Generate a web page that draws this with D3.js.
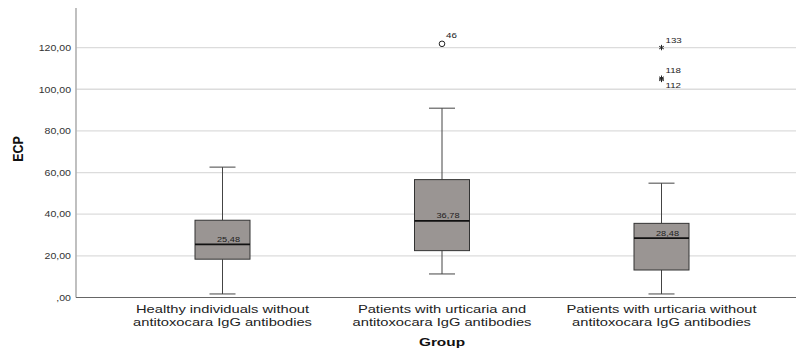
<!DOCTYPE html>
<html>
<head>
<meta charset="utf-8">
<script src="https://cdn.jsdelivr.net/npm/d3@7"></script>
<style>
  html, body { margin: 0; padding: 0; background: #fff; }
  svg { display: block; font-family: "Liberation Sans", Arial, sans-serif; }
</style>
</head>
<body>
<svg id="chart" width="796" height="350"></svg>
<script>
// ---- data ----
const groups = [
  ["Healthy individuals without", "antitoxocara IgG antibodies"],
  ["Patients with urticaria and", "antitoxocara IgG antibodies"],
  ["Patients with urticaria without", "antitoxocara IgG antibodies"]
];
const whiskerLow  = [1.7, 11.3, 1.7];
const q1          = [18.4, 22.5, 13.2];
const median      = [25.48, 36.78, 28.48];
const q3          = [37.1, 56.6, 35.6];
const whiskerHigh = [62.6, 90.9, 54.9];
const outlierGroup = [1, 2, 2, 2];
const outlierValue = [121.8, 120.0, 105.3, 104.7];
const outlierId    = ["46", "133", "118", "112"];
const outlierKind  = ["circle", "star", "star", "star"];
const yTicks = [0, 20, 40, 60, 80, 100, 120];
const yTitle = "ECP";
const xTitle = "Group";

// ---- layout ----
const svg = d3.select("#chart");
const plotLeft = 76, plotRight = 796, plotTop = 8, plotBottom = 297.5;
const SX = 1.4; // horizontal stretch of the reference's text

const x = d3.scalePoint().domain(d3.range(groups.length)).range([222.5, 661.5]);
const y = d3.scaleLinear().domain([0, 139]).range([plotBottom, plotTop]);
const fmt = v => (v === 0 ? "" : d3.format("d")(Math.floor(v))) + "," + d3.format("02d")(Math.round((v % 1) * 100));

function stretchedText(parent, tx, ty, str, size, anchor, sx, opts = {}) {
  return parent.append("text")
    .attr("transform", `translate(${tx},${ty}) scale(${sx},1)`)
    .attr("text-anchor", anchor).attr("font-size", size)
    .attr("font-weight", opts.bold ? "bold" : "normal")
    .attr("fill", opts.fill || "#222").text(str);
}

// gridlines
svg.append("g").selectAll("line").data(yTicks.filter(d => d > 0)).join("line")
  .attr("x1", plotLeft).attr("x2", plotRight)
  .attr("y1", d => y(d)).attr("y2", d => y(d))
  .attr("stroke", "#dcdcdc").attr("stroke-width", 1.3);

// y tick labels
const yl = svg.append("g");
yTicks.forEach(t => stretchedText(yl, 71, y(t) + 3.3, fmt(t), 8.8, "end", 1.2, { fill: "#333" }));
svg.append("line").attr("x1", plotLeft).attr("x2", plotLeft)
  .attr("y1", plotTop).attr("y2", plotBottom)
  .attr("stroke", "#b0b0b0").attr("stroke-width", 1.6);

// x axis line
svg.append("line").attr("x1", plotLeft).attr("x2", plotRight)
  .attr("y1", plotBottom).attr("y2", plotBottom)
  .attr("stroke", "#666").attr("stroke-width", 1);

const boxW = 55, capW = 26;
const g = svg.append("g");
groups.forEach((grp, i) => {
  const cx = x(i);
  // whiskers
  g.append("line").attr("x1", cx).attr("x2", cx).attr("y1", y(whiskerHigh[i])).attr("y2", y(q3[i]))
    .attr("stroke", "#444").attr("stroke-width", 1);
  g.append("line").attr("x1", cx).attr("x2", cx).attr("y1", y(q1[i])).attr("y2", y(whiskerLow[i]))
    .attr("stroke", "#444").attr("stroke-width", 1);
  g.append("line").attr("x1", cx - capW / 2).attr("x2", cx + capW / 2)
    .attr("y1", y(whiskerHigh[i])).attr("y2", y(whiskerHigh[i])).attr("stroke", "#444");
  g.append("line").attr("x1", cx - capW / 2).attr("x2", cx + capW / 2)
    .attr("y1", y(whiskerLow[i])).attr("y2", y(whiskerLow[i])).attr("stroke", "#444");
  // box
  g.append("rect").attr("x", cx - boxW / 2).attr("width", boxW)
    .attr("y", y(q3[i])).attr("height", y(q1[i]) - y(q3[i]))
    .attr("fill", "#9a9593").attr("stroke", "#333").attr("stroke-width", 1);
  // median
  g.append("line").attr("x1", cx - boxW / 2).attr("x2", cx + boxW / 2)
    .attr("y1", y(median[i])).attr("y2", y(median[i]))
    .attr("stroke", "#111").attr("stroke-width", 1.8);
  stretchedText(g, cx + 6, y(median[i]) - 2.5, fmt(median[i]), 8, "middle", 1.15);
  // group labels
  stretchedText(svg, cx, 313, grp[0], 10.5, "middle", SX);
  stretchedText(svg, cx, 326, grp[1], 10.5, "middle", SX);
});

// outliers
const labelDy = [-6, -5, -5, 9];
outlierValue.forEach((v, k) => {
  const cx = x(outlierGroup[k]), cy = y(v);
  if (outlierKind[k] === "circle") {
    g.append("circle").attr("cx", cx).attr("cy", cy).attr("r", 2.8)
      .attr("fill", "none").attr("stroke", "#222").attr("stroke-width", 1);
  } else {
    g.append("path").attr("transform", `translate(${cx},${cy})`)
      .attr("d", d3.symbol(d3.symbolAsterisk, 20)())
      .attr("fill", "none").attr("stroke", "#222").attr("stroke-width", 1);
  }
  stretchedText(g, cx + 4, cy + labelDy[k], outlierId[k], 7.5, "start", 1.3);
});

// titles
svg.append("text").attr("transform", "translate(23,149) rotate(-90) scale(1,1.1)")
  .attr("text-anchor", "middle").attr("font-size", 12.5).attr("font-weight", "bold")
  .attr("fill", "#111").text(yTitle);
stretchedText(svg, x(1), 345.5, xTitle, 11, "middle", SX, { bold: true, fill: "#111" });
</script>
</body>
</html>
